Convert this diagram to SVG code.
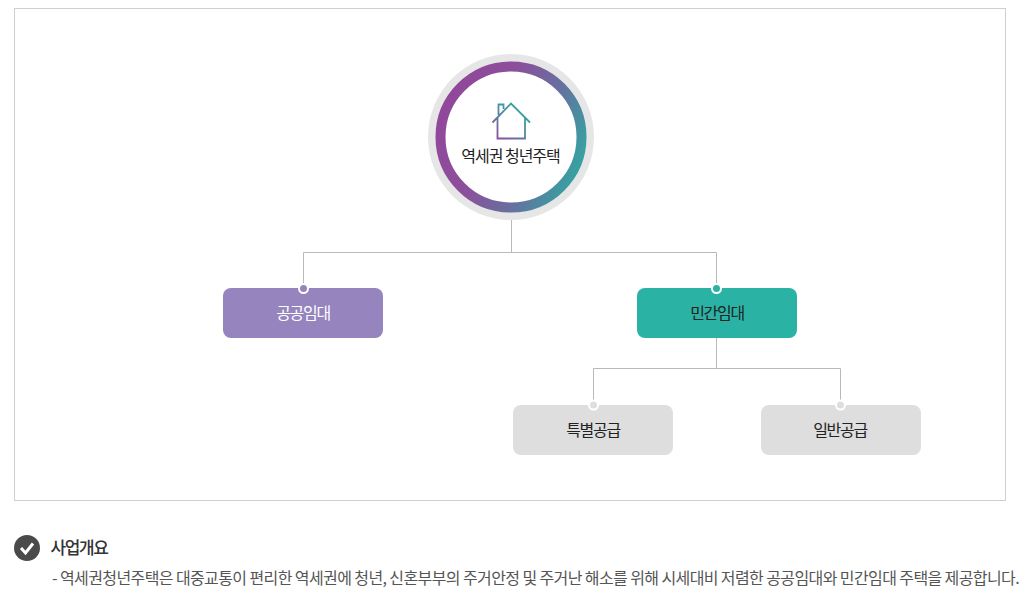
<svg xmlns="http://www.w3.org/2000/svg" width="1030" height="604" viewBox="0 0 1030 604">
<defs>
<linearGradient id="ring" x1="0" y1="0.3" x2="1" y2="0.7">
<stop offset="0" stop-color="#91479b"/><stop offset="0.35" stop-color="#8c4f9b"/><stop offset="0.68" stop-color="#66709f"/><stop offset="1" stop-color="#35a3a2"/>
</linearGradient>
<linearGradient id="house" gradientUnits="userSpaceOnUse" x1="497" y1="138" x2="522" y2="108">
<stop offset="0" stop-color="#8a4f9e"/><stop offset="0.6" stop-color="#4f8ca2"/><stop offset="1" stop-color="#2fa9a2"/>
</linearGradient>
<style>
text{font-family:"Noto Sans CJK KR","Noto Sans",sans-serif;text-anchor:middle;letter-spacing:-1.300px}
.lbl{font-size:16px;fill:#222}
.wire{fill:none;stroke:#b9b9b9;stroke-width:1}
.dot{stroke:#fff;stroke-width:2}
.box{stroke:none}
</style>
</defs>
<rect x="14.500" y="8.500" width="991" height="492" fill="#fff" stroke="#cfcfcf"/>
<g id="connectors">
<path class="wire" d="M511.500 220V252.500M303.500 288V252.500H716.500V288"/>
<path class="wire" d="M716.500 338V368.500M593.500 405V368.500H840.500V405"/>
</g>
<g id="root">
<circle cx="511" cy="137" r="83" fill="#e6e6e6"/>
<circle cx="511" cy="137" r="70.500" fill="#fff" stroke="url(#ring)" stroke-width="10"/>
<path d="M492.500 122.500L511 103.500L530 122.500M497.500 117V138.500H525V117M498.500 115V104.500H503.500V109" fill="none" stroke="url(#house)" stroke-width="1.800"/>
<text class="lbl" x="510.500" y="162" style="letter-spacing:-1px">역세권 청년주택</text>
</g>
<g id="public">
<rect class="box" x="223" y="288" width="160" height="50" rx="8" fill="#9584bd"/>
<circle class="dot" cx="303.500" cy="288.500" r="4.500" fill="#9584bd"/>
<text class="lbl" x="303" y="319" style="fill:#fff">공공임대</text>
</g>
<g id="private">
<rect class="box" x="637" y="288" width="160" height="50" rx="8" fill="#2ab3a5"/>
<circle class="dot" cx="716.500" cy="288.500" r="4.500" fill="#2ab3a5"/>
<text class="lbl" x="717" y="319">민간임대</text>
</g>
<g id="special">
<rect class="box" x="513" y="405" width="160" height="50" rx="8" fill="#dedede"/>
<circle class="dot" cx="593.500" cy="405" r="4.500" fill="#dedede"/>
<text class="lbl" x="593" y="436">특별공급</text>
</g>
<g id="general">
<rect class="box" x="761" y="405" width="160" height="50" rx="8" fill="#dedede"/>
<circle class="dot" cx="840.500" cy="405" r="4.500" fill="#dedede"/>
<text class="lbl" x="840" y="436">일반공급</text>
</g>
<g id="note">
<circle cx="27" cy="548" r="13" fill="#4a4a4a"/>
<path d="M21 548L25.500 553L33 543.500" fill="none" stroke="#fff" stroke-width="3"/>
<text x="79" y="553.500" font-size="17" font-weight="500" fill="#333" style="letter-spacing:-1.400px">사업개요</text>
<text x="52" y="584" font-size="16" fill="#555" style="text-anchor:start;letter-spacing:-0.6px">- 역세권청년주택은 대중교통이 편리한 역세권에 청년, 신혼부부의 주거안정 및 주거난 해소를 위해 시세대비 저렴한 공공임대와 민간임대 주택을 제공합니다.</text>
</g>
</svg>
